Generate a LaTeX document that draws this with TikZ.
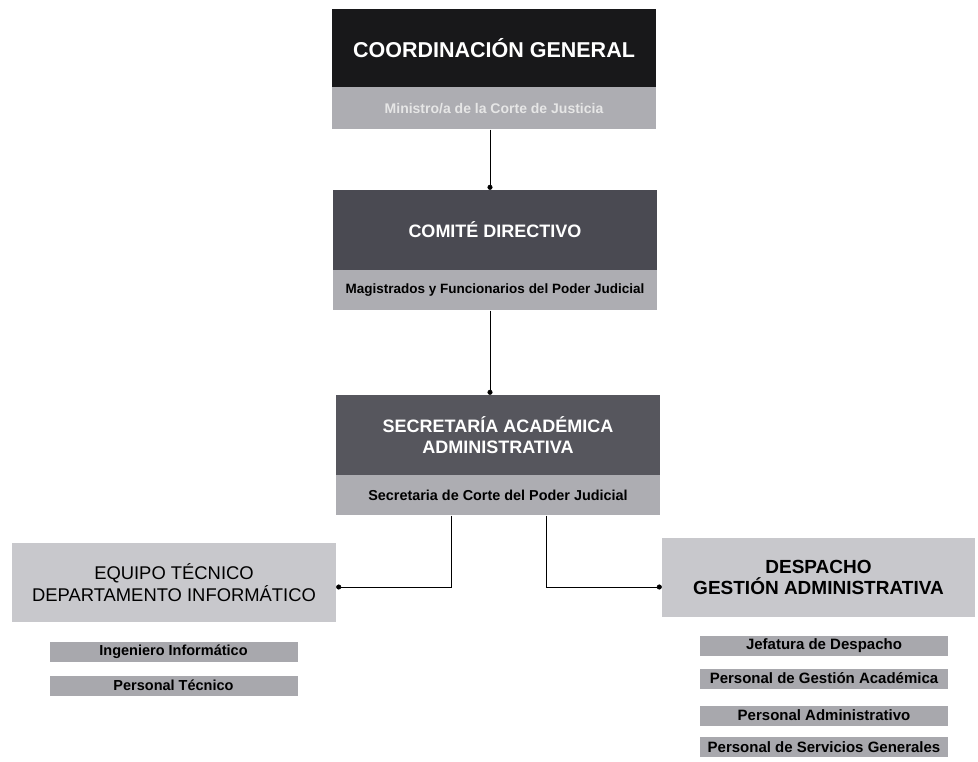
\documentclass[tikz,border=0pt]{standalone}
\usepackage{fontspec}
\setmainfont{Liberation Sans}
\usetikzlibrary{positioning,arrows.meta}

\definecolor{topdark}{HTML}{18181A}
\definecolor{middark}{HTML}{4A4A52}
\definecolor{lowdark}{HTML}{56565D}
\definecolor{stripgray}{HTML}{ADADB2}
\definecolor{sidegray}{HTML}{C8C8CC}
\definecolor{itemgray}{HTML}{A8A8AD}
\definecolor{paletext}{HTML}{E6E6E6}

\begin{document}
\begin{tikzpicture}[x=1pt, y=-1pt, node distance=0pt,
    headbox/.style={fill=#1, text=white, minimum width=324pt, minimum height=80pt,
        inner sep=0pt, align=center, font=\bfseries\fontsize{18}{21}\selectfont},
    strip/.style={fill=stripgray, minimum width=324pt, minimum height=40pt,
        inner sep=0pt, font=\bfseries\fontsize{13.5}{16}\selectfont},
    sidebox/.style={fill=sidegray, minimum height=79pt, inner sep=0pt,
        align=center, font=\fontsize{18.4}{20}\selectfont},
    itembox/.style={fill=itemgray, minimum width=248pt, minimum height=20pt,
        inner sep=0pt, font=\bfseries\fontsize{14.5}{16}\selectfont},
    link/.style={draw, line width=0.8pt, -{Circle[length=5pt]}}]
\useasboundingbox (0,0) rectangle (978,761);

% direccion
\node[headbox=topdark, minimum height=78pt, font=\bfseries\fontsize{21.5}{25}\selectfont] (cg) at (494,48) {COORDINACIÓN GENERAL};
\node[strip, minimum height=42pt, text=paletext, font=\bfseries\fontsize{14}{16}\selectfont, below=of cg] (cgsub) {Ministro/a de la Corte de Justicia};

\node[headbox=middark] (cd) at (495,230) {COMITÉ DIRECTIVO};
\node[strip, below=of cd] (cdsub) {Magistrados y Funcionarios del Poder Judicial};

\node[headbox=lowdark] (sa) at (498,435) {SECRETARÍA ACADÉMICA\\ADMINISTRATIVA};
\node[strip, font=\bfseries\fontsize{14.4}{16}\selectfont, below=of sa] (sasub) {Secretaria de Corte del Poder Judicial};

% areas
\node[sidebox, minimum width=324pt] (eq) at (174,582.5) {\raisebox{-4pt}{\shortstack{EQUIPO TÉCNICO\\DEPARTAMENTO INFORMÁTICO}}};
\node[sidebox, minimum width=313pt, font=\bfseries\fontsize{19}{21}\selectfont] (dg) at (818.5,577.5) {DESPACHO\\GESTIÓN ADMINISTRATIVA};

\node[itembox] (ing) at (173.5,652) {Ingeniero Informático};
\node[itembox] (tec) at (173.5,685.5) {Personal Técnico};

\node[itembox, font=\bfseries\fontsize{15}{17}\selectfont] (jef) at (824,645.5) {Jefatura de Despacho};
\node[itembox, font=\bfseries\fontsize{15}{17}\selectfont] (gac) at (824,678.5) {Personal de Gestión Académica};
\node[itembox, font=\bfseries\fontsize{15}{17}\selectfont] (adm) at (824,715.5) {Personal Administrativo};
\node[itembox, font=\bfseries\fontsize{15}{17}\selectfont] (ser) at (824,747) {Personal de Servicios Generales};

% conexiones
\path[link] ([xshift=-4pt]cgsub.south) -- ([xshift=-4pt]cg.south |- cd.north);
\path[link] ([xshift=-5pt]cdsub.south) -- ([xshift=-5pt]cdsub.south |- sa.north);
\path[link] ([xshift=-47pt]sasub.south) |- ([yshift=-4.5pt]eq.east);
\path[link] ([xshift=48pt]sasub.south) |- ([yshift=-9.5pt]dg.west);
\end{tikzpicture}
\end{document}
